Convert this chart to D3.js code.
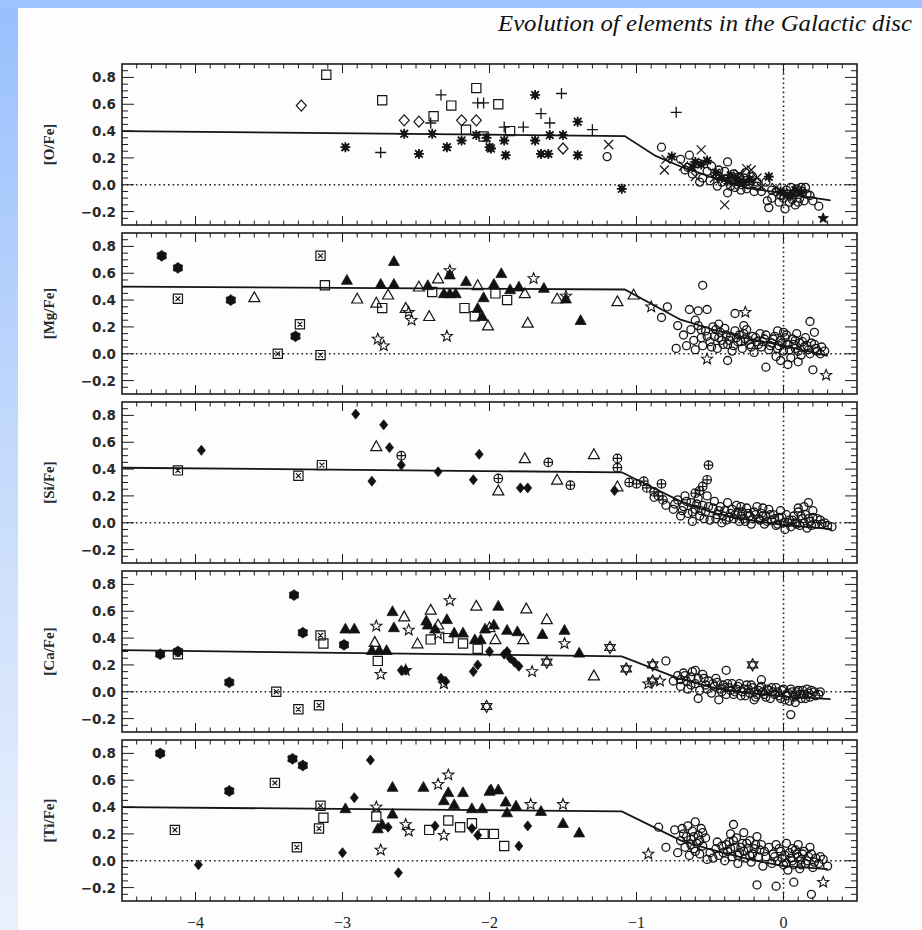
<!DOCTYPE html>
<html>
<head>
<meta charset="utf-8">
<style>
  body { margin: 0; background: #fff; }
  svg { display: block; }
  .tick { stroke: #1c1c1c; stroke-width: 1; }
  .frame { fill: none; stroke: #1c1c1c; stroke-width: 1.6; }
  .model { fill: none; stroke: #151515; stroke-width: 1.8; }
  .dots { stroke: #222; stroke-width: 1.6; stroke-dasharray: 1.6 3; fill: none; }
  .ylab { font-family: "DejaVu Sans", sans-serif; font-size: 13.5px; font-weight: bold; fill: #2a2a2a; }
  .elab { font-family: "Liberation Serif", serif; font-size: 15px; font-weight: bold; fill: #2a2a2a; }
  .xlab { font-family: "Liberation Serif", serif; font-size: 16px; fill: #1c1c1c; }
</style>
</head>
<body>
<script src="https://d3js.org/d3.v7.min.js"></script>
<script>

// ---- data: [Fe/H], [X/Fe] ----
var xTicks = [-4, -3, -2, -1, 0];
var yTicks = [0.8, 0.6, 0.4, 0.2, 0.0, -0.2];
var panelLabels = ["[O/Fe]", "[Mg/Fe]", "[Si/Fe]", "[Ca/Fe]", "[Ti/Fe]"];

// model curves
var oModel  = [[-4.5,0.40],[-1.08,0.363],[-0.87,0.215],[-0.70,0.136],[-0.47,0.049],[-0.24,-0.025],[-0.01,-0.062],[0.32,-0.116]];
var mgModel = [[-4.5,0.50],[-1.08,0.479],[-0.70,0.254],[-0.47,0.177],[-0.24,0.113],[-0.01,0.062],[0.30,-0.015]];
var siModel = [[-4.5,0.41],[-1.10,0.376],[-0.70,0.159],[-0.47,0.072],[-0.24,0.022],[-0.01,-0.015],[0.33,-0.047]];
var caModel = [[-4.5,0.31],[-1.10,0.264],[-0.72,0.102],[-0.47,0.028],[-0.24,-0.010],[-0.01,-0.035],[0.32,-0.055]];
var tiModel = [[-4.5,0.40],[-1.10,0.368],[-0.70,0.152],[-0.51,0.089],[-0.24,0.012],[-0.01,-0.038],[0.30,-0.063]];

// [O/Fe]
var oSquare = [[-3.11,0.82],[-2.73,0.63],[-2.38,0.51],[-2.26,0.59],[-2.09,0.72],[-2.16,0.41],[-1.94,0.60],[-1.86,0.40],[-2.04,0.36]];
var oDiamond = [[-3.28,0.59],[-2.58,0.48],[-2.48,0.47],[-2.19,0.48],[-2.09,0.48],[-1.50,0.27]];
var oPlus = [[-2.74,0.24],[-2.33,0.67],[-2.08,0.61],[-2.04,0.61],[-1.51,0.68],[-1.65,0.53],[-1.59,0.46],[-1.77,0.43],[-1.90,0.43],[-1.30,0.41],[-0.73,0.54],[-2.40,0.46]];
var oAster = [[-2.98,0.28],[-2.58,0.38],[-2.48,0.23],[-2.39,0.38],[-2.29,0.28],[-2.19,0.33],[-2.09,0.37],[-2.00,0.28],[-2.02,0.35],[-1.99,0.27],
  [-1.90,0.33],[-1.89,0.22],[-1.69,0.67],[-1.69,0.33],[-1.65,0.23],[-1.60,0.23],[-1.59,0.37],[-1.50,0.37],[-1.40,0.47],[-1.40,0.22],[-1.10,-0.03],
  [-0.76,0.21],[-0.56,0.15],[-0.10,0.06],[-0.62,0.13],[-0.42,0.05],[-0.38,0.03],[-0.30,0.02],[-0.02,-0.05],[0.05,-0.08],[0.12,-0.06],[-0.52,0.18],
  [-0.33,0.05],[-0.27,0.02],[-0.23,0.04],[-0.36,0.07],[0.00,-0.06],[0.08,-0.04],[-0.46,0.09],[-0.60,0.17]];
var oCross = [[-0.80,0.19],[-0.81,0.11],[-0.56,0.26],[-0.22,0.11],[-0.25,0.12],[-0.40,-0.15],[-0.47,0.05],[-0.35,0.00],[-0.05,-0.02],[0.10,-0.04],
  [-1.19,0.30],[-0.60,0.06],[-0.15,-0.02],[-0.30,0.08],[-0.18,0.05],[0.02,-0.09],[-0.68,0.14]];
var oFStar = [[0.27,-0.25]];
var oCircle = [[-0.83,0.28],[-0.70,0.19],[-0.64,0.22],[-0.67,0.11],[-0.58,0.16],[-0.49,0.14],[-0.38,0.17],[-0.62,0.08],[-0.55,0.05],[-0.52,0.10],
  [-0.45,0.07],[-0.42,0.02],[-0.40,0.10],[-0.35,0.04],[-0.33,-0.02],[-0.30,0.06],[-0.28,0.00],[-0.25,-0.03],[-0.22,0.03],[-0.20,-0.05],
  [-0.18,-0.01],[-0.15,-0.05],[-0.12,0.02],[-0.10,-0.17],[-0.11,-0.12],[-0.08,-0.10],[-0.05,-0.05],[-0.02,-0.08],[0.02,-0.04],[0.05,-0.02],
  [0.07,-0.07],[0.09,-0.03],[0.11,-0.10],[0.13,-0.05],[0.15,-0.02],[0.14,-0.12],[0.04,-0.13],[0.01,-0.18],[0.08,-0.15],[0.18,-0.08],
  [0.20,-0.12],[0.24,-0.16],[-0.38,-0.06],[-0.45,-0.01],[-0.57,0.02],[-0.65,0.13],[-0.26,0.09],[-1.20,0.21],
  [-0.34,0.08],[-0.31,0.03],[-0.27,0.05],[-0.24,0.00],[-0.21,0.06],[-0.18,0.02],[-0.36,-0.01],[-0.29,-0.04],[-0.44,0.11],[-0.50,0.03],
  [0.00,-0.10],[0.03,-0.07],[0.06,-0.11],[0.12,-0.02],[0.16,-0.07],[-0.03,-0.13],[0.10,-0.13],[-0.08,-0.04]];

// [Mg/Fe]
var mgHex = [[-4.23,0.73],[-4.12,0.64],[-3.76,0.40],[-3.32,0.13]];
var mgBox = [[-4.12,0.41],[-3.44,0.00],[-3.29,0.22],[-3.15,0.73],[-3.15,-0.01]];
var mgTriO = [[-3.60,0.42],[-2.90,0.41],[-2.77,0.38],[-2.69,0.44],[-2.57,0.34],[-2.48,0.50],[-2.41,0.28],[-2.35,0.56],[-2.08,0.51],[-2.01,0.21],
  [-1.76,0.45],[-1.74,0.23],[-1.54,0.41],[-1.13,0.39],[-1.02,0.44]];
var mgTriF = [[-2.97,0.55],[-2.74,0.52],[-2.65,0.69],[-2.65,0.52],[-2.42,0.51],[-2.31,0.45],[-2.27,0.45],[-2.23,0.45],[-2.27,0.59],[-2.16,0.54],
  [-2.08,0.34],[-2.05,0.28],[-2.04,0.42],[-1.97,0.52],[-1.92,0.60],[-1.86,0.48],[-1.80,0.50],[-1.63,0.49],[-1.48,0.41],[-1.38,0.25]];
var mgSquare = [[-3.12,0.51],[-2.73,0.34],[-2.39,0.46],[-2.17,0.34],[-2.10,0.28],[-1.96,0.45],[-1.88,0.40]];
var mgStar = [[-2.76,0.11],[-2.72,0.06],[-2.55,0.31],[-2.53,0.25],[-2.27,0.62],[-2.29,0.13],[-1.70,0.56],[-1.48,0.43],[-0.90,0.35],[-0.26,0.31],[-0.52,-0.04],[0.29,-0.16]];
var mgCircle = [[-0.79,0.35],[-0.83,0.27],[-0.55,0.51],[-0.33,0.30],[-0.64,0.33],[-0.58,0.32],[-0.52,0.33],[-0.72,0.21],[0.20,-0.12],[0.18,0.24],
  [0.21,0.16],[-0.12,-0.10],[-0.38,-0.05],[-0.73,0.04],[-0.68,0.14],[-0.66,0.06],[-0.63,0.18],[-0.61,0.10],[-0.60,0.03],[-0.58,0.21],
  [-0.56,0.12],[-0.55,0.06],[-0.53,0.17],[-0.50,0.09],[-0.48,0.20],[-0.47,0.13],[-0.45,0.04],[-0.43,0.16],[-0.42,0.10],[-0.40,0.19],
  [-0.38,0.07],[-0.36,0.13],[-0.35,0.02],[-0.33,0.17],[-0.31,0.09],[-0.30,0.14],[-0.28,0.04],[-0.26,0.11],[-0.25,0.18],[-0.23,0.07],
  [-0.21,0.13],[-0.20,0.01],[-0.18,0.09],[-0.16,0.15],[-0.15,0.05],[-0.13,0.11],[-0.10,0.03],[-0.08,0.08],[-0.06,0.13],[-0.05,-0.02],
  [-0.03,0.06],[-0.02,0.10],[0.00,0.02],[0.02,0.14],[0.03,0.07],[0.05,-0.03],[0.06,0.11],[0.08,0.04],[0.09,0.15],[0.11,0.08],
  [0.12,-0.01],[0.14,0.05],[0.15,0.12],[0.17,0.03],[0.19,0.08],[0.22,0.04],[0.25,0.00],[0.03,-0.08],[-0.02,-0.05],[0.10,-0.06],
  [-0.27,0.21],[-0.44,0.22],[-0.60,0.25],
  [-0.44,0.12],[-0.41,0.07],[-0.39,0.14],[-0.37,0.10],[-0.34,0.06],[-0.32,0.12],[-0.29,0.09],[-0.27,0.15],[-0.24,0.10],[-0.22,0.05],
  [-0.19,0.12],[-0.17,0.07],[-0.14,0.09],[-0.12,0.14],[-0.09,0.06],[-0.07,0.11],[-0.04,0.04],[-0.01,0.08],[0.01,0.12],[0.04,0.03],
  [0.07,0.07],[0.10,0.02],[0.13,0.09],[0.16,0.06],[0.18,0.00],[0.21,0.07],[0.23,0.02],[0.26,0.05],[-0.56,0.18],[-0.52,0.13],
  [-0.49,0.05],[-0.46,0.18],[0.00,0.16],[-0.04,0.17],[0.08,0.10],[0.28,0.02]];

// [Si/Fe]
var siBox = [[-4.12,0.39],[-3.30,0.35],[-3.14,0.43]];
var siDia = [[-3.96,0.54],[-2.91,0.81],[-2.80,0.31],[-2.72,0.73],[-2.68,0.56],[-2.60,0.43],[-2.35,0.38],[-2.11,0.32],[-2.07,0.51],[-1.79,0.26],[-1.74,0.26],[-1.15,0.24]];
var siTriO = [[-2.77,0.57],[-1.94,0.24],[-1.76,0.48],[-1.54,0.32],[-1.29,0.51],[-1.13,0.27]];
var siCPlus = [[-2.60,0.50],[-1.94,0.33],[-1.60,0.45],[-1.45,0.28],[-1.13,0.48],[-1.13,0.41],[-0.51,0.43],[-0.52,0.32],[-1.05,0.30],[-1.00,0.29],
  [-0.95,0.31],[-0.93,0.26],[-0.88,0.23],[-0.85,0.20],[-0.82,0.17],[-0.83,0.29],[-0.55,0.27],[-0.57,0.24],[-0.60,0.22]];
var siCircle = [[-0.88,0.19],[-0.80,0.13],[-0.75,0.10],[-0.72,0.17],[-0.70,0.05],[-0.68,0.12],[-0.67,0.20],[-0.65,0.07],[-0.63,0.15],[-0.62,0.01],
  [-0.60,0.10],[-0.58,0.18],[-0.57,0.05],[-0.55,0.13],[-0.53,0.08],[-0.52,0.20],[-0.50,0.02],[-0.48,0.11],[-0.47,0.16],[-0.45,0.06],
  [-0.43,0.12],[-0.42,0.00],[-0.40,0.09],[-0.38,0.15],[-0.37,0.04],[-0.35,0.10],[-0.33,0.06],[-0.32,0.13],[-0.30,0.01],[-0.28,0.08],
  [-0.27,0.03],[-0.25,0.11],[-0.23,0.05],[-0.22,-0.01],[-0.20,0.08],[-0.18,0.12],[-0.17,0.03],[-0.15,0.07],[-0.13,-0.01],[-0.12,0.05],
  [-0.10,0.10],[-0.08,0.02],[-0.07,0.06],[-0.05,-0.02],[-0.03,0.04],[-0.02,0.09],[0.00,0.00],[0.01,-0.05],[0.02,0.06],[0.04,0.02],
  [0.05,-0.03],[0.07,0.05],[0.08,0.00],[0.10,0.08],[0.11,-0.02],[0.13,0.03],[0.15,0.06],[0.16,-0.04],[0.18,0.01],[0.20,0.04],
  [0.22,-0.01],[0.25,0.02],[0.28,0.00],[0.30,-0.02],[0.17,0.15],[0.14,0.12],[-0.29,0.12],[-0.14,0.11],[0.33,-0.03],
  [-0.46,0.03],[-0.44,0.09],[-0.41,0.05],[-0.39,0.02],[-0.36,0.07],[-0.34,0.03],[-0.31,0.08],[-0.29,0.05],[-0.26,0.01],[-0.24,0.07],
  [-0.21,0.03],[-0.19,0.06],[-0.16,0.02],[-0.14,0.05],[-0.11,0.01],[-0.09,0.06],[-0.06,0.03],[-0.04,-0.01],[-0.01,0.04],[0.03,0.00],
  [0.06,0.02],[0.09,-0.01],[0.12,0.05],[0.14,0.00],[0.17,0.03],[0.19,-0.02],[0.23,0.03],[0.26,-0.01],[-0.62,0.08],[-0.59,0.14],
  [-0.56,0.09],[-0.54,0.03],[-0.51,0.12],[-0.66,0.16],[-0.69,0.09],[-0.74,0.14],[0.10,0.11],[0.20,0.09]];

// [Ca/Fe]
var caHex = [[-4.24,0.28],[-4.12,0.30],[-3.77,0.07],[-3.33,0.72],[-3.27,0.44],[-2.99,0.35]];
var caBox = [[-4.12,0.28],[-3.45,0.00],[-3.30,-0.13],[-3.15,0.42],[-3.16,-0.10]];
var caSquare = [[-3.13,0.36],[-2.76,0.23],[-2.40,0.39],[-2.28,0.40],[-2.18,0.36],[-2.08,0.32]];
var caTriF = [[-2.98,0.47],[-2.92,0.47],[-2.80,0.31],[-2.75,0.31],[-2.70,0.31],[-2.66,0.60],[-2.65,0.48],[-2.43,0.53],[-2.42,0.50],[-2.29,0.54],
  [-2.24,0.44],[-2.18,0.44],[-2.10,0.39],[-2.06,0.39],[-1.94,0.64],[-1.97,0.50],[-1.88,0.46],[-1.81,0.45],[-1.64,0.43],[-1.49,0.46],
  [-1.39,0.29],[-2.37,0.47],[-2.03,0.47]];
var caTriO = [[-2.78,0.37],[-2.58,0.56],[-2.49,0.36],[-2.40,0.61],[-2.35,0.50],[-2.09,0.64],[-1.96,0.39],[-1.77,0.39],[-1.75,0.62],[-1.61,0.54],[-1.29,0.12],[-2.00,0.48]];
var caStar = [[-2.77,0.49],[-2.74,0.13],[-2.55,0.46],[-2.57,0.16],[-2.27,0.68],[-2.31,0.06],[-2.35,0.43],[-1.71,0.15],[-1.49,0.36],[-0.92,0.06],[-0.84,0.08]];
var caDia = [[-2.60,0.16],[-2.57,0.16],[-2.33,0.10],[-2.30,0.08],[-2.11,0.15],[-2.08,0.20],[-1.90,0.28],[-1.86,0.25],[-1.83,0.22],[-1.80,0.19],[-1.88,0.30],[-2.00,0.30]];
var caHexagram = [[-2.02,-0.11],[-1.61,0.22],[-1.18,0.33],[-1.07,0.17],[-0.89,0.20],[-0.89,0.08],[-0.21,0.20]];
var caCircle = [[-0.80,0.23],[-0.39,0.16],[-0.15,0.09],[-0.58,-0.05],[0.05,-0.17],[-0.75,0.08],[-0.72,0.12],[-0.70,0.04],[-0.68,0.14],[-0.66,0.08],
  [-0.65,0.02],[-0.63,0.11],[-0.62,0.15],[-0.60,0.06],[-0.58,0.10],[-0.57,0.01],[-0.55,0.13],[-0.53,0.05],[-0.51,0.08],[-0.49,-0.01],
  [-0.47,0.04],[-0.45,0.07],[-0.43,0.02],[-0.41,0.05],[-0.39,-0.02],[-0.37,0.03],[-0.35,0.06],[-0.33,0.00],[-0.31,0.04],[-0.29,-0.03],
  [-0.27,0.02],[-0.25,0.05],[-0.23,-0.01],[-0.21,0.03],[-0.19,-0.04],[-0.17,0.01],[-0.15,0.04],[-0.13,-0.02],[-0.11,0.02],[-0.09,-0.05],
  [-0.07,0.00],[-0.05,0.03],[-0.03,-0.03],[-0.01,0.01],[0.01,-0.06],[0.03,-0.01],[0.05,0.02],[0.07,-0.04],[0.09,0.00],[0.11,-0.02],
  [0.13,0.01],[0.15,-0.05],[0.17,-0.01],[0.19,0.01],[0.22,-0.03],[0.25,0.00],[-0.44,-0.06],[-0.20,-0.06],[0.08,-0.08],[-0.60,0.16],
  [-0.63,0.05],[-0.46,0.10],
  [-0.42,0.00],[-0.40,0.03],[-0.38,0.06],[-0.36,0.01],[-0.34,-0.02],[-0.32,0.02],[-0.30,0.06],[-0.28,0.00],[-0.26,-0.03],[-0.24,0.02],
  [-0.22,0.05],[-0.20,0.00],[-0.18,-0.02],[-0.16,0.03],[-0.14,0.00],[-0.12,-0.04],[-0.10,0.01],[-0.08,0.03],[-0.06,-0.02],[-0.04,0.00],
  [-0.02,-0.05],[0.00,0.02],[0.02,-0.03],[0.04,-0.07],[0.06,0.00],[0.08,-0.03],[0.10,0.01],[0.12,-0.05],[0.14,-0.02],[0.16,0.02],
  [0.18,-0.04],[0.21,0.00],[0.24,-0.02],[-0.52,0.02],[-0.48,0.06],[-0.54,0.10],[-0.67,0.12],[-0.70,0.09]];

// [Ti/Fe]
var tiHex = [[-4.24,0.80],[-3.77,0.52],[-3.34,0.76],[-3.27,0.71]];
var tiBox = [[-4.14,0.23],[-3.46,0.58],[-3.31,0.10],[-3.15,0.41],[-3.16,0.24]];
var tiDia = [[-3.98,-0.03],[-3.00,0.06],[-2.92,0.47],[-2.81,0.75],[-2.69,0.25],[-2.62,-0.09],[-2.37,0.26],[-2.12,0.24],[-2.08,0.19],[-1.74,0.26],[-1.80,0.11]];
var tiTriF = [[-2.98,0.39],[-2.76,0.24],[-2.73,0.27],[-2.66,0.55],[-2.66,0.35],[-2.45,0.55],[-2.31,0.45],[-2.28,0.51],[-2.24,0.42],[-2.18,0.51],
  [-2.12,0.39],[-2.05,0.39],[-2.00,0.52],[-1.99,0.53],[-1.94,0.53],[-1.89,0.44],[-1.82,0.41],[-1.88,0.36],[-1.65,0.37],[-1.50,0.28],[-1.39,0.21]];
var tiStar = [[-2.77,0.40],[-2.74,0.08],[-2.57,0.27],[-2.55,0.22],[-2.35,0.57],[-2.28,0.64],[-2.31,0.19],[-1.72,0.42],[-1.50,0.42],[-0.92,0.05],[0.27,-0.16]];
var tiSquare = [[-3.13,0.32],[-2.77,0.33],[-2.41,0.23],[-2.28,0.30],[-2.20,0.25],[-2.12,0.28],[-2.04,0.20],[-1.97,0.20],[-1.90,0.11]];
var tiCircle = [[-0.85,0.25],[-0.74,0.23],[-0.80,0.10],[-0.34,0.27],[-0.18,-0.18],[-0.05,-0.19],[0.07,-0.16],[0.19,-0.25],[-0.72,0.06],[-0.70,0.15],
  [-0.68,0.20],[-0.67,0.10],[-0.65,0.26],[-0.64,0.04],[-0.63,0.16],[-0.62,0.22],[-0.61,0.09],[-0.60,0.29],[-0.59,0.13],[-0.58,0.19],
  [-0.57,0.05],[-0.56,0.24],[-0.55,0.11],[-0.53,0.17],[-0.50,0.06],[-0.48,0.02],[-0.46,0.09],[-0.44,0.04],[-0.42,0.11],[-0.40,0.00],
  [-0.38,0.07],[-0.37,0.14],[-0.36,0.20],[-0.35,0.03],[-0.33,0.10],[-0.32,0.17],[-0.31,-0.02],[-0.30,0.06],[-0.28,0.13],[-0.27,0.21],
  [-0.26,0.02],[-0.24,0.09],[-0.23,0.15],[-0.22,-0.01],[-0.21,0.05],[-0.19,0.12],[-0.18,0.18],[-0.16,0.08],[-0.14,-0.04],[-0.12,0.03],
  [-0.10,0.10],[-0.08,-0.02],[-0.07,0.05],[-0.05,0.12],[-0.04,0.00],[-0.02,0.07],[0.00,-0.03],[0.01,0.04],[0.02,0.13],[0.03,-0.07],
  [0.05,0.02],[0.06,0.09],[0.07,-0.03],[0.09,0.05],[0.10,0.12],[0.11,-0.06],[0.12,0.01],[0.14,0.07],[0.15,-0.02],[0.17,0.03],
  [0.18,0.10],[0.20,-0.05],[0.22,0.02],[0.24,-0.02],[0.27,0.01],[0.30,-0.04],[-0.52,0.01],[-0.45,0.14],
  [-0.41,0.06],[-0.39,0.12],[-0.36,0.09],[-0.34,0.15],[-0.31,0.04],[-0.29,0.10],[-0.27,0.07],[-0.25,0.13],[-0.23,0.04],[-0.20,0.09],
  [-0.17,0.03],[-0.15,0.12],[-0.13,0.07],[-0.06,0.03],[-0.03,0.09],[-0.01,0.02],[0.02,-0.02],[0.04,0.06],[0.06,0.00],[0.08,0.08],
  [0.10,0.03],[0.12,-0.03],[0.13,0.05],[0.16,0.00],[0.19,0.05],[0.21,-0.01],[0.25,0.03],[-0.66,0.18],[-0.63,0.12],[-0.60,0.07],
  [-0.57,0.15],[-0.55,0.21],[-0.69,0.24],[-0.61,0.18]];

var panels = [
  {label: panelLabels[0], model: oModel, sets: [["square",oSquare],["diamond",oDiamond],["plus",oPlus],["cross",oCross],["circle",oCircle],["aster",oAster],["fstar",oFStar]]},
  {label: panelLabels[1], model: mgModel, sets: [["circle",mgCircle],["fhex",mgHex],["box",mgBox],["triO",mgTriO],["square",mgSquare],["triF",mgTriF],["star",mgStar]]},
  {label: panelLabels[2], model: siModel, sets: [["circle",siCircle],["box",siBox],["triO",siTriO],["cplus",siCPlus],["fdia",siDia]]},
  {label: panelLabels[3], model: caModel, sets: [["circle",caCircle],["fhex",caHex],["box",caBox],["square",caSquare],["triO",caTriO],["triF",caTriF],["star",caStar],["fdia",caDia],["hexagram",caHexagram]]},
  {label: panelLabels[4], model: tiModel, sets: [["circle",tiCircle],["fhex",tiHex],["box",tiBox],["square",tiSquare],["triF",tiTriF],["star",tiStar],["fdia",tiDia]]}
];

// ---- marker shapes ----
function poly(n, R, r, rot) {
  var p = [];
  for (var i = 0; i < 2 * n; i++) {
    var a = rot + i * Math.PI / n, rr = i % 2 ? r : R;
    p.push([rr * Math.sin(a), -rr * Math.cos(a)]);
  }
  return "M" + p.map(function(d) { return d[0].toFixed(2) + "," + d[1].toFixed(2); }).join("L") + "Z";
}
function circ(r) { return "M" + r + ",0A" + r + "," + r + " 0 1,1 " + (-r) + ",0A" + r + "," + r + " 0 1,1 " + r + ",0Z"; }

var shapes = {
  circle:  {d: circ(4), fill: "none", sw: 1.3},
  square:  {d: "M-4.6,-4.6h9.2v9.2h-9.2Z", fill: "none", sw: 1.2},
  diamond: {d: "M0,-5.5L5,0L0,5.5L-5,0Z", fill: "none", sw: 1.2},
  triO:    {d: "M0,-5.5L5.5,4.3L-5.5,4.3Z", fill: "none", sw: 1.2},
  triF:    {d: "M0,-5.5L5.5,4.3L-5.5,4.3Z", fill: "#111", sw: 0.8},
  fdia:    {d: "M0,-5L4,0L0,5L-4,0Z", fill: "#111", sw: 0.8},
  plus:    {d: "M-5.5,0H5.5M0,-5.5V5.5", fill: "none", sw: 1.3},
  cross:   {d: "M-4.5,-4.5L4.5,4.5M-4.5,4.5L4.5,-4.5", fill: "none", sw: 1.2},
  aster:   {d: "M-5,0H5M0,-5V5M-3.8,-3.8L3.8,3.8M-3.8,3.8L3.8,-3.8" + circ(2.2), fill: "#111", sw: 1.8},
  star:    {d: poly(5, 5.8, 2.5, 0), fill: "none", sw: 1.1},
  fstar:   {d: poly(5, 5.5, 2.4, 0), fill: "#111", sw: 0.8},
  fhex:    {d: poly(6, 5.4, 4.3, 0), fill: "#111", sw: 0.8},
  hexagram:{d: "M0,-6L5.2,3L-5.2,3ZM0,6L5.2,-3L-5.2,-3Z", fill: "none", sw: 1.2},
  box:     {d: "M-4.6,-4.6h9.2v9.2h-9.2ZM-2.4,-2.4L2.4,2.4M-2.4,2.4L2.4,-2.4", fill: "none", sw: 1.2},
  cplus:   {d: circ(4.3) + "M-4.3,0H4.3M0,-4.3V4.3", fill: "none", sw: 1.2}
};

// ---- layout ----
var W = 922, H = 930;
var svg = d3.select("body").append("svg").attr("width", W).attr("height", H);

var defs = svg.append("defs");
var grad = defs.append("linearGradient").attr("id", "side").attr("x1", 0).attr("y1", 0).attr("x2", 0).attr("y2", 1);
grad.append("stop").attr("offset", "0%").attr("stop-color", "#98c0fd");
grad.append("stop").attr("offset", "55%").attr("stop-color", "#c9ddfb");
grad.append("stop").attr("offset", "100%").attr("stop-color", "#eaf1fd");

svg.append("rect").attr("width", W).attr("height", H).attr("fill", "#fdfdfd");
svg.append("rect").attr("width", 18).attr("height", H).attr("fill", "url(#side)");
svg.append("rect").attr("width", W).attr("height", 8).attr("fill", "#9dc4fe");

svg.append("text")
  .attr("x", 912).attr("y", 31)
  .attr("text-anchor", "end")
  .attr("font-family", "Liberation Serif, serif")
  .attr("font-style", "italic")
  .attr("font-size", "23px")
  .attr("fill", "#111")
  .attr("textLength", 414)
  .attr("lengthAdjust", "spacingAndGlyphs")
  .text("Evolution of elements in the Galactic disc");

var left = 122, right = 857, top0 = 64, step = 169, ph = 161;

var x = d3.scaleLinear().domain([-4.5, 0.5]).range([left, right]);

var xMinor = d3.range(-44, 5).map(function(i) { return i / 10; });
var yMinor = d3.range(-5, 18).map(function(i) { return i / 20; });

var line = d3.line().x(function(d) { return x(d[0]); });

panels.forEach(function(p, i) {
  var top = top0 + i * step, bottom = top + ph;
  var y = d3.scaleLinear().domain([-0.3, 0.9]).range([bottom, top]);
  var g = svg.append("g");

  // dotted reference lines
  g.append("line").attr("class", "dots")
    .attr("x1", left).attr("x2", right).attr("y1", y(0)).attr("y2", y(0));
  g.append("line").attr("class", "dots")
    .attr("x1", x(0)).attr("x2", x(0)).attr("y1", top).attr("y2", bottom);

  // x ticks, top and bottom
  xMinor.forEach(function(v) {
    var major = Math.abs(v - Math.round(v)) < 1e-6;
    var len = major ? 9 : 4.5;
    g.append("line").attr("class", "tick").attr("stroke-width", major ? 1.4 : 1)
      .attr("x1", x(v)).attr("x2", x(v)).attr("y1", top).attr("y2", top + len);
    g.append("line").attr("class", "tick").attr("stroke-width", major ? 1.4 : 1)
      .attr("x1", x(v)).attr("x2", x(v)).attr("y1", bottom).attr("y2", bottom - len);
  });

  // y ticks, left and right
  yMinor.forEach(function(v) {
    var major = Math.abs(v * 5 - Math.round(v * 5)) < 1e-6;
    var len = major ? 12 : 6;
    g.append("line").attr("class", "tick")
      .attr("x1", left).attr("x2", left + len).attr("y1", y(v)).attr("y2", y(v));
    g.append("line").attr("class", "tick")
      .attr("x1", right).attr("x2", right - len).attr("y1", y(v)).attr("y2", y(v));
  });

  // y tick labels
  g.selectAll(".ylab").data(yTicks).enter().append("text")
    .attr("class", "ylab")
    .attr("x", 116).attr("y", function(d) { return y(d) + 5; })
    .attr("text-anchor", "end")
    .text(function(d) { return d < 0 ? "\u2212" + Math.abs(d).toFixed(1) : d.toFixed(1); });

  // element label
  g.append("text").attr("class", "elab")
    .attr("transform", "translate(" + 54 + "," + (top + ph / 2) + ") rotate(-90)")
    .attr("text-anchor", "middle")
    .text(p.label);

  // model curve
  line.y(function(d) { return y(d[1]); });
  g.append("path").datum(p.model).attr("class", "model").attr("d", line);

  // data points
  p.sets.forEach(function(s) {
    var sh = shapes[s[0]];
    g.selectAll(null).data(s[1]).enter().append("path")
      .attr("d", sh.d)
      .attr("transform", function(d) { return "translate(" + x(d[0]).toFixed(1) + "," + y(d[1]).toFixed(1) + ")"; })
      .attr("fill", sh.fill)
      .attr("stroke", "#151515")
      .attr("stroke-width", sh.sw);
  });

  g.append("rect").attr("class", "frame")
    .attr("x", left).attr("y", top).attr("width", right - left).attr("height", ph);

  if (i === panels.length - 1) {
    g.selectAll(".xlab").data(xTicks).enter().append("text")
      .attr("class", "xlab")
      .attr("x", function(d) { return x(d); }).attr("y", bottom + 27)
      .attr("text-anchor", "middle")
      .text(function(d) { return d < 0 ? "\u2212" + Math.abs(d) : d; });
  }
});

</script>
</body>
</html>
